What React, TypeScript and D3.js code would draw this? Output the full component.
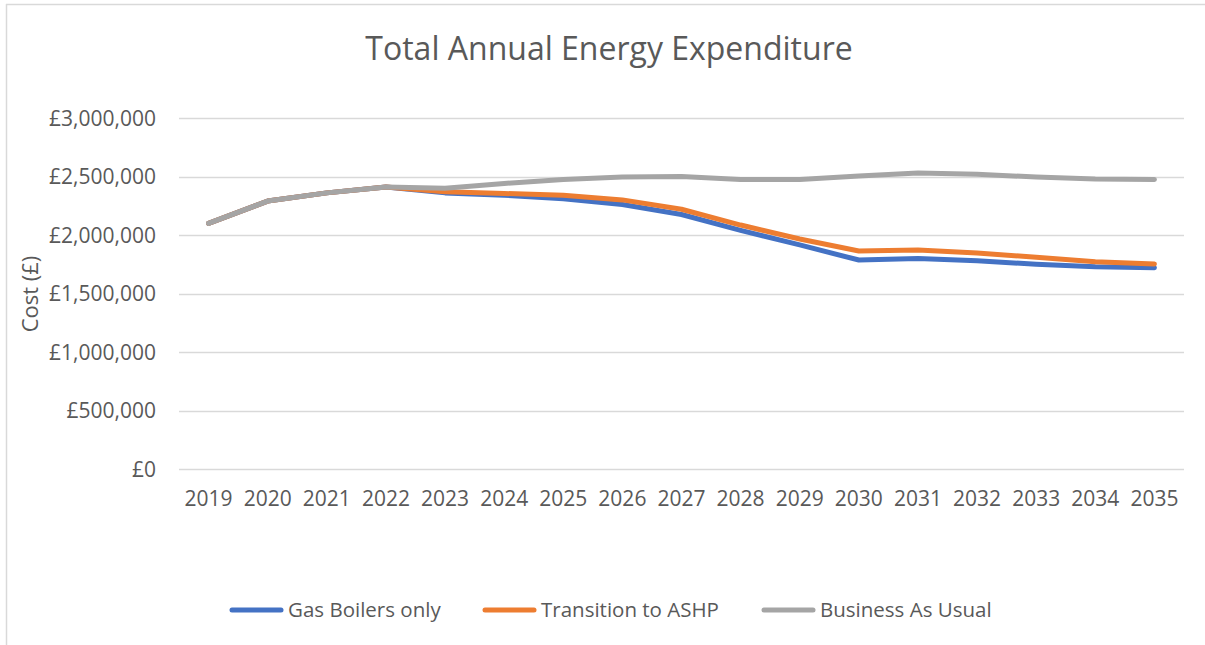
import React, { useEffect, useRef } from "react";
import * as d3 from "d3";

const years = ["2019","2020","2021","2022","2023","2024","2025","2026","2027","2028","2029","2030","2031","2032","2033","2034","2035"];
const gasBoilers = [2100000,2290000,2360000,2410000,2360000,2340000,2310000,2260000,2175000,2040000,1915000,1786000,1800000,1780000,1750000,1728000,1720000];
const transitionASHP = [2100000,2290000,2360000,2410000,2370000,2355000,2340000,2300000,2220000,2085000,1966000,1863000,1872000,1846000,1810000,1772000,1752000];
const businessAsUsual = [2100000,2290000,2360000,2410000,2400000,2440000,2475000,2495000,2500000,2475000,2475000,2505000,2530000,2520000,2495000,2478000,2475000];
const yTicks = [0,500000,1000000,1500000,2000000,2500000,3000000];
const seriesNames = ["Gas Boilers only","Transition to ASHP","Business As Usual"];
const seriesColors = ["#4472C4","#ED7D31","#A5A5A5"];

const W = 1205, H = 645;
const FONT = "'Open Sans', sans-serif";

export default function App() {
  const ref = useRef<SVGSVGElement>(null);
  useEffect(() => {
    const svg = d3.select(ref.current);
    svg.selectAll("*").remove();
    const left = 179, right = 1184, top = 118, bottom = 469;
    const x = d3.scaleBand().domain(years).range([left, right]);
    const y = d3.scaleLinear().domain([0, 3000000]).range([bottom, top]);

    svg.append("rect").attr("x", 0).attr("y", 0).attr("width", W).attr("height", H).attr("fill", "#fff");
    // frame
    svg.append("line").attr("x1", 6.5).attr("x2", 6.5).attr("y1", 4).attr("y2", H).attr("stroke", "#d9d9d9").attr("stroke-width", 1.5);
    svg.append("line").attr("x1", 6).attr("x2", W).attr("y1", 4.5).attr("y2", 4.5).attr("stroke", "#d9d9d9").attr("stroke-width", 1.5);

    // title
    svg.append("text").attr("x", 609).attr("y", 60).attr("text-anchor", "middle")
      .attr("font-family", FONT).attr("font-size", 32).attr("fill", "#595959")
      .text("Total Annual Energy Expenditure");

    // gridlines + y labels
    const fmt = (v: number) => "£" + d3.format(",")(v);
    yTicks.forEach((t) => {
      svg.append("line").attr("x1", left).attr("x2", right)
        .attr("y1", Math.round(y(t)) + 0.5).attr("y2", Math.round(y(t)) + 0.5)
        .attr("stroke", "#d9d9d9").attr("stroke-width", 1.3);
      svg.append("text").attr("x", 156).attr("y", y(t)).attr("dy", "0.36em")
        .attr("text-anchor", "end").attr("font-family", FONT).attr("font-size", 21)
        .attr("fill", "#595959").text(fmt(t));
    });

    // x labels
    years.forEach((yr) => {
      svg.append("text").attr("x", (x(yr) as number) + x.bandwidth() / 2).attr("y", 506)
        .attr("text-anchor", "middle").attr("font-family", FONT).attr("font-size", 21)
        .attr("fill", "#595959").text(yr);
    });

    // y axis title
    svg.append("text").attr("transform", `translate(38,294) rotate(-90)`)
      .attr("text-anchor", "middle").attr("font-family", FONT).attr("font-size", 22)
      .attr("fill", "#595959").text("Cost (£)");

    const line = d3.line<number>()
      .x((_, i) => (x(years[i]) as number) + x.bandwidth() / 2)
      .y((d) => y(d));
    [gasBoilers, transitionASHP, businessAsUsual].forEach((s, i) => {
      svg.append("path").attr("d", line(s) as string).attr("fill", "none")
        .attr("stroke", seriesColors[i]).attr("stroke-width", 5)
        .attr("stroke-linecap", "round").attr("stroke-linejoin", "round");
    });

    // legend
    const legendStarts = [230, 483, 762];
    seriesNames.forEach((n, i) => {
      const lx = legendStarts[i];
      svg.append("line").attr("x1", lx + 2).attr("x2", lx + 51).attr("y1", 610).attr("y2", 610)
        .attr("stroke", seriesColors[i]).attr("stroke-width", 5).attr("stroke-linecap", "round");
      svg.append("text").attr("x", lx + 58).attr("y", 610).attr("dy", "0.36em")
        .attr("font-family", FONT).attr("font-size", 20.5).attr("fill", "#595959").text(n);
    });
  }, []);
  return <svg ref={ref} width={W} height={H} style={{ display: "block", position: "absolute", left: 0, top: 0 }} />;
}
